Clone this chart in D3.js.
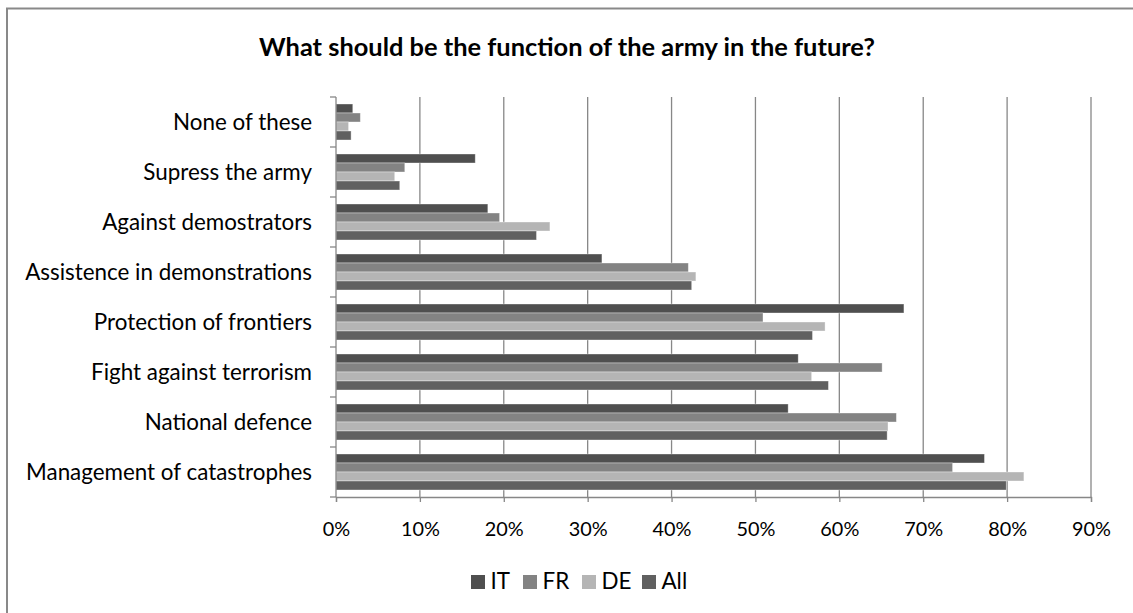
<!DOCTYPE html>
<html>
<head>
<meta charset="utf-8">
<script src="https://cdn.jsdelivr.net/npm/d3@7"></script>
<style>
  html, body { margin: 0; padding: 0; background: #fff; }
  svg { display: block; }
  text { font-family: Lato, "Open Sans", sans-serif; fill: #000; }
</style>
</head>
<body>
<svg id="chart" width="1133" height="613"></svg>
<script>
// ---- data (top-to-bottom display order) ----
const categories = [
  "None of these",
  "Supress the army",
  "Against demostrators",
  "Assistence in demonstrations",
  "Protection of frontiers",
  "Fight against terrorism",
  "National defence",
  "Management of catastrophes"
];
const seriesNames = ["IT", "FR", "DE", "All"];
const valuesIT  = [2.0, 16.6, 18.1, 31.7, 67.7, 55.1, 53.9, 77.3];
const valuesFR  = [2.9,  8.2, 19.5, 42.0, 50.9, 65.1, 66.8, 73.5];
const valuesDE  = [1.5,  7.0, 25.5, 42.9, 58.3, 56.7, 65.8, 82.0];
const valuesAll = [1.8,  7.6, 23.9, 42.4, 56.8, 58.7, 65.7, 79.9];
const tickValues = [0, 10, 20, 30, 40, 50, 60, 70, 80, 90];
const titleText = "What should be the function of the army in the future?";

const seriesValues = [valuesIT, valuesFR, valuesDE, valuesAll];
const colors = ["#4f4f4f", "#838383", "#b5b5b5", "#606060"];

const svg = d3.select("#chart");

// frame
svg.append("path")
  .attr("d", "M7,620 L7,8.5 L1140,8.5")
  .attr("fill", "none").attr("stroke", "#898989").attr("stroke-width", 2);

// scales
const x = d3.scaleLinear().domain([0, 90]).range([336, 1091]);
const y = d3.scaleBand().domain(categories).range([97, 497]).paddingInner(0).paddingOuter(0);
const inner = d3.scaleBand().domain(seriesNames).range([7, y.bandwidth() - 7]);

// gridlines
svg.append("g").selectAll("line").data(tickValues.slice(1)).join("line")
  .attr("x1", d => x(d)).attr("x2", d => x(d))
  .attr("y1", 97).attr("y2", 497)
  .attr("stroke", "#878787").attr("stroke-width", 1.3);

// bars
const groups = svg.append("g").selectAll("g").data(categories).join("g")
  .attr("transform", c => `translate(0,${y(c)})`);
groups.selectAll("rect")
  .data((c, i) => seriesNames.map((s, j) => ({ s, j, v: seriesValues[j][i] })))
  .join("rect")
  .attr("x", x(0))
  .attr("y", d => inner(d.s))
  .attr("width", d => x(d.v) - x(0))
  .attr("height", inner.bandwidth())
  .attr("fill", d => colors[d.j])
  .attr("stroke", "rgba(255,255,255,0.45)")
  .attr("stroke-width", 0.8);

// y axis: ticks at band boundaries
const gy = svg.append("g");
gy.append("line").attr("x1", 336).attr("x2", 336).attr("y1", 97).attr("y2", 497)
  .attr("stroke", "#878787").attr("stroke-width", 1.3);
const boundaries = categories.map(c => y(c)).concat([y.range()[1]]);
gy.selectAll("line.tk").data(boundaries).join("line").attr("class", "tk")
  .attr("x1", 330).attr("x2", 336).attr("y1", d => d).attr("y2", d => d)
  .attr("stroke", "#878787").attr("stroke-width", 1.3);
const labels = gy.selectAll("text.cat").data(categories).join("text").attr("class", "cat")
  .attr("x", 312).attr("y", c => y(c) + y.bandwidth() / 2)
  .attr("dy", "0.35em").attr("text-anchor", "end")
  .attr("font-size", 18)
  .text(c => c);

// fit category label font size to reference width (longest label ~287px)
let maxW = 0;
labels.each(function() { maxW = Math.max(maxW, this.getComputedTextLength()); });
const catSize = 18 * 287 / maxW;
labels.attr("font-size", catSize);

// x axis
const xAxis = d3.axisBottom(x).tickValues(tickValues).tickSize(5)
  .tickFormat(d => d + "%");
const gx = svg.append("g").attr("transform", "translate(0,497)").call(xAxis);
gx.select(".domain").attr("stroke", "#878787").attr("stroke-width", 1.3);
gx.selectAll(".tick line").attr("stroke", "#878787").attr("stroke-width", 1.3);
const tickTexts = gx.selectAll(".tick text")
  .attr("font-family", "Lato, sans-serif").attr("fill", "#000")
  .attr("y", 39).attr("dy", 0).attr("font-size", 18);
const tw10 = tickTexts.filter(d => d === 10).node().getComputedTextLength();
tickTexts.attr("font-size", 18 * 39 / tw10);

// title
const title = svg.append("text").attr("x", 567).attr("y", 56)
  .attr("text-anchor", "middle").attr("font-weight", "bold").attr("font-size", 20)
  .text(titleText);
const tw = title.node().getComputedTextLength();
title.attr("font-size", 20 * 616 / tw);

// legend
const legendX = [471, 523, 582, 642];
const lg = svg.append("g").selectAll("g").data(seriesNames).join("g")
  .attr("transform", (d, i) => `translate(${legendX[i]},0)`);
lg.append("rect").attr("x", 0).attr("y", 575).attr("width", 14).attr("height", 14)
  .attr("fill", (d, i) => colors[i]);
lg.append("text").attr("x", 19.5).attr("y", 589).attr("font-size", catSize).text(d => d);
</script>
</body>
</html>
